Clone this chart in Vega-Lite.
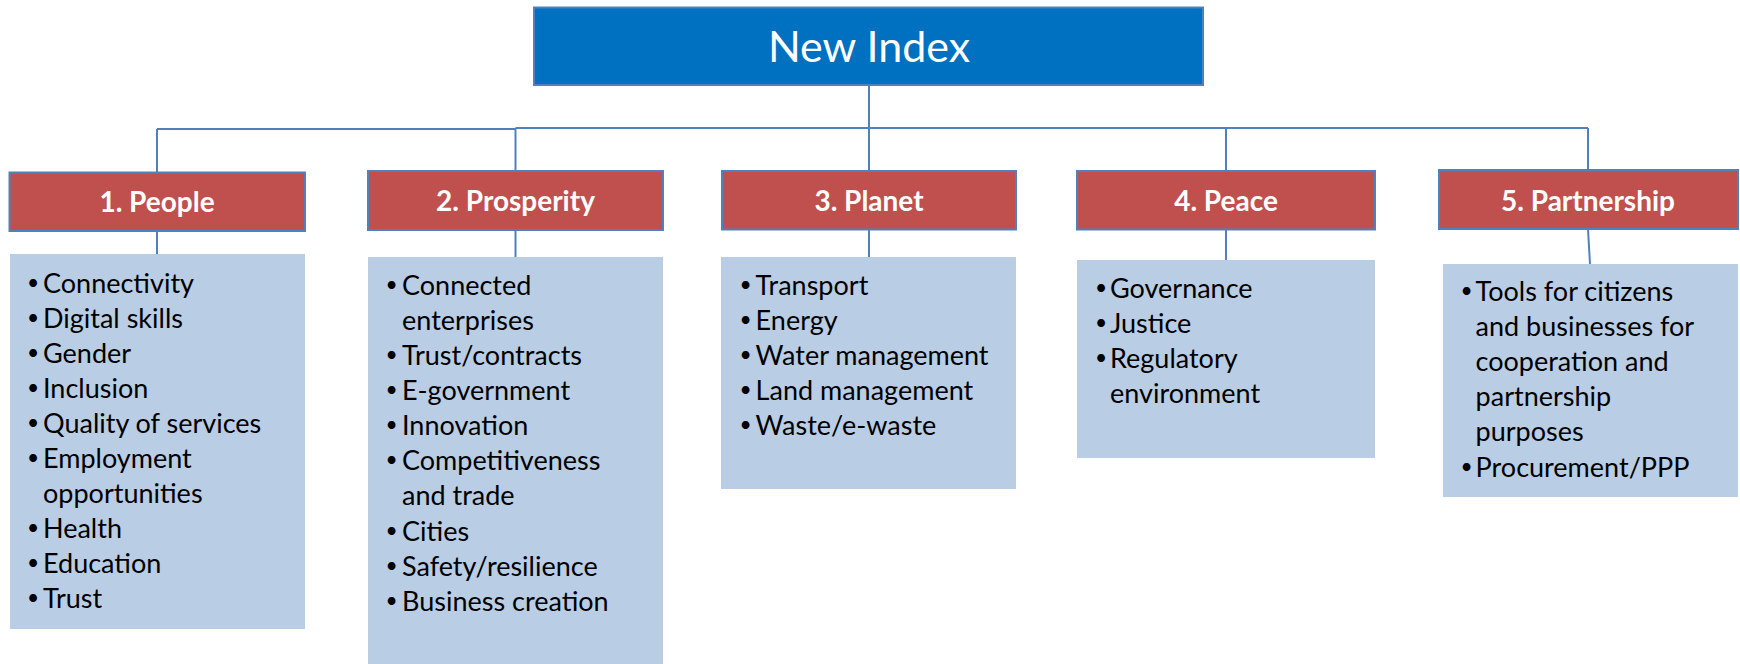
{
  "$schema": "https://vega.github.io/schema/vega-lite/v6.json",
  "width": 1740,
  "height": 664,
  "autosize": {"type": "fit", "contains": "padding"},
  "padding": 0,
  "background": "white",
  "config": {"view": {"stroke": null}},
  "datasets": {
    "boxes": [
      {"kind": "index", "x": 534, "x2": 1203, "y": 7.5, "y2": 85},
      {"kind": "pillar", "x": 9.5, "x2": 305, "y": 172.5, "y2": 231},
      {"kind": "pillar", "x": 368, "x2": 663, "y": 171, "y2": 230},
      {"kind": "pillar", "x": 722, "x2": 1016, "y": 171, "y2": 229.5},
      {"kind": "pillar", "x": 1077, "x2": 1375, "y": 171, "y2": 229.5},
      {"kind": "pillar", "x": 1439, "x2": 1738, "y": 170, "y2": 229}
    ],
    "items": [
      {"x": 10, "x2": 305, "y": 254, "y2": 629},
      {"x": 368, "x2": 663, "y": 257, "y2": 664},
      {"x": 721, "x2": 1016, "y": 257, "y2": 489},
      {"x": 1077, "x2": 1375, "y": 260, "y2": 458},
      {"x": 1443, "x2": 1738, "y": 264, "y2": 497}
    ],
    "links": [
      {"x": 869, "y": 85, "x2": 869, "y2": 128},
      {"x": 157, "y": 129, "x2": 515.5, "y2": 129},
      {"x": 515.5, "y": 128, "x2": 1588, "y2": 128},
      {"x": 157, "y": 129, "x2": 157, "y2": 172.5},
      {"x": 515.5, "y": 128, "x2": 515.5, "y2": 171},
      {"x": 869, "y": 128, "x2": 869, "y2": 171},
      {"x": 1226, "y": 128, "x2": 1226, "y2": 171},
      {"x": 1588, "y": 128, "x2": 1588, "y2": 170},
      {"x": 157, "y": 231, "x2": 157, "y2": 254},
      {"x": 515.5, "y": 230, "x2": 515.5, "y2": 257},
      {"x": 869, "y": 229.5, "x2": 869, "y2": 257},
      {"x": 1226, "y": 229.5, "x2": 1226, "y2": 260},
      {"x": 1588, "y": 229, "x2": 1590, "y2": 264}
    ],
    "titles": [
      {"x": 157, "y": 212, "label": "1. People"},
      {"x": 515.5, "y": 211, "label": "2. Prosperity"},
      {"x": 869, "y": 211, "label": "3. Planet"},
      {"x": 1226, "y": 211, "label": "4. Peace"},
      {"x": 1588, "y": 210.5, "label": "5. Partnership"}
    ],
    "lines": [
      {"x": 43, "bx": 33, "y": 293, "bullet": "•", "label": "Connectivity"},
      {"x": 43, "bx": 33, "y": 328, "bullet": "•", "label": "Digital skills"},
      {"x": 43, "bx": 33, "y": 363, "bullet": "•", "label": "Gender"},
      {"x": 43, "bx": 33, "y": 398, "bullet": "•", "label": "Inclusion"},
      {"x": 43, "bx": 33, "y": 433, "bullet": "•", "label": "Quality of services"},
      {"x": 43, "bx": 33, "y": 468, "bullet": "•", "label": "Employment"},
      {"x": 43, "bx": 33, "y": 503, "bullet": "", "label": "opportunities"},
      {"x": 43, "bx": 33, "y": 538, "bullet": "•", "label": "Health"},
      {"x": 43, "bx": 33, "y": 573, "bullet": "•", "label": "Education"},
      {"x": 43, "bx": 33, "y": 608, "bullet": "•", "label": "Trust"},
      {"x": 402, "bx": 391.5, "y": 294.5, "bullet": "•", "label": "Connected"},
      {"x": 402, "bx": 391.5, "y": 329.6, "bullet": "", "label": "enterprises"},
      {"x": 402, "bx": 391.5, "y": 364.8, "bullet": "•", "label": "Trust/contracts"},
      {"x": 402, "bx": 391.5, "y": 400, "bullet": "•", "label": "E-government"},
      {"x": 402, "bx": 391.5, "y": 435, "bullet": "•", "label": "Innovation"},
      {"x": 402, "bx": 391.5, "y": 470.2, "bullet": "•", "label": "Competitiveness"},
      {"x": 402, "bx": 391.5, "y": 505.4, "bullet": "", "label": "and trade"},
      {"x": 402, "bx": 391.5, "y": 540.5, "bullet": "•", "label": "Cities"},
      {"x": 402, "bx": 391.5, "y": 575.7, "bullet": "•", "label": "Safety/resilience"},
      {"x": 402, "bx": 391.5, "y": 610.8, "bullet": "•", "label": "Business creation"},
      {"x": 755.6, "bx": 745.5, "y": 295, "bullet": "•", "label": "Transport"},
      {"x": 755.6, "bx": 745.5, "y": 330, "bullet": "•", "label": "Energy"},
      {"x": 755.6, "bx": 745.5, "y": 365, "bullet": "•", "label": "Water management"},
      {"x": 755.6, "bx": 745.5, "y": 400, "bullet": "•", "label": "Land management"},
      {"x": 755.6, "bx": 745.5, "y": 435, "bullet": "•", "label": "Waste/e-waste"},
      {"x": 1110, "bx": 1101, "y": 298.3, "bullet": "•", "label": "Governance"},
      {"x": 1110, "bx": 1101, "y": 333.3, "bullet": "•", "label": "Justice"},
      {"x": 1110, "bx": 1101, "y": 368.3, "bullet": "•", "label": "Regulatory"},
      {"x": 1110, "bx": 1101, "y": 403.3, "bullet": "", "label": "environment"},
      {"x": 1475.6, "bx": 1466.5, "y": 301, "bullet": "•", "label": "Tools for citizens"},
      {"x": 1475.6, "bx": 1466.5, "y": 336.1, "bullet": "", "label": "and businesses for"},
      {"x": 1475.6, "bx": 1466.5, "y": 371.2, "bullet": "", "label": "cooperation and"},
      {"x": 1475.6, "bx": 1466.5, "y": 406.3, "bullet": "", "label": "partnership"},
      {"x": 1475.6, "bx": 1466.5, "y": 441.4, "bullet": "", "label": "purposes"},
      {"x": 1475.6, "bx": 1466.5, "y": 476.7, "bullet": "•", "label": "Procurement/PPP"}
    ],
    "header": [
      {"x": 869, "y": 61.5, "label": "New Index"}
    ]
  },
  "layer": [
    {
      "data": {"name": "items"},
      "mark": {"type": "rect", "color": "#B9CDE5"},
      "encoding": {
        "x": {"field": "x", "type": "quantitative", "scale": {"domain": [0, 1740], "nice": false, "zero": false}, "axis": null},
        "x2": {"field": "x2"},
        "y": {"field": "y", "type": "quantitative", "scale": {"domain": [0, 664], "nice": false, "zero": false, "reverse": true}, "axis": null},
        "y2": {"field": "y2"}
      }
    },
    {
      "data": {"name": "links"},
      "mark": {"type": "rule", "color": "#4F81BD", "strokeWidth": 2},
      "encoding": {
        "x": {"field": "x", "type": "quantitative", "scale": {"domain": [0, 1740], "nice": false, "zero": false}, "axis": null},
        "x2": {"field": "x2"},
        "y": {"field": "y", "type": "quantitative", "scale": {"domain": [0, 664], "nice": false, "zero": false, "reverse": true}, "axis": null},
        "y2": {"field": "y2"}
      }
    },
    {
      "data": {"name": "boxes"},
      "mark": {"type": "rect", "stroke": "#4F81BD", "strokeWidth": 2},
      "encoding": {
        "x": {"field": "x", "type": "quantitative", "scale": {"domain": [0, 1740], "nice": false, "zero": false}, "axis": null},
        "x2": {"field": "x2"},
        "y": {"field": "y", "type": "quantitative", "scale": {"domain": [0, 664], "nice": false, "zero": false, "reverse": true}, "axis": null},
        "y2": {"field": "y2"},
        "fill": {"field": "kind", "type": "nominal", "scale": {"domain": ["index", "pillar"], "range": ["#0070C0", "#C0504D"]}, "legend": null}
      }
    },
    {
      "data": {"name": "header"},
      "mark": {"type": "text", "font": "Lato", "fontSize": 43, "color": "white", "align": "center", "baseline": "alphabetic"},
      "encoding": {
        "x": {"field": "x", "type": "quantitative", "scale": {"domain": [0, 1740], "nice": false, "zero": false}, "axis": null},
        "y": {"field": "y", "type": "quantitative", "scale": {"domain": [0, 664], "nice": false, "zero": false, "reverse": true}, "axis": null},
        "text": {"field": "label"}
      }
    },
    {
      "data": {"name": "titles"},
      "mark": {"type": "text", "font": "Lato", "fontSize": 28, "fontWeight": "bold", "color": "white", "align": "center", "baseline": "alphabetic"},
      "encoding": {
        "x": {"field": "x", "type": "quantitative", "scale": {"domain": [0, 1740], "nice": false, "zero": false}, "axis": null},
        "y": {"field": "y", "type": "quantitative", "scale": {"domain": [0, 664], "nice": false, "zero": false, "reverse": true}, "axis": null},
        "text": {"field": "label"}
      }
    },
    {
      "data": {"name": "lines"},
      "mark": {"type": "text", "font": "Lato", "fontSize": 27, "color": "black", "align": "left", "baseline": "alphabetic"},
      "encoding": {
        "x": {"field": "x", "type": "quantitative", "scale": {"domain": [0, 1740], "nice": false, "zero": false}, "axis": null},
        "y": {"field": "y", "type": "quantitative", "scale": {"domain": [0, 664], "nice": false, "zero": false, "reverse": true}, "axis": null},
        "text": {"field": "label"}
      }
    },
    {
      "data": {"name": "lines"},
      "mark": {"type": "text", "font": "Lato", "fontSize": 21, "color": "black", "align": "center", "baseline": "alphabetic", "dy": -3},
      "encoding": {
        "x": {"field": "bx", "type": "quantitative", "scale": {"domain": [0, 1740], "nice": false, "zero": false}, "axis": null},
        "y": {"field": "y", "type": "quantitative", "scale": {"domain": [0, 664], "nice": false, "zero": false, "reverse": true}, "axis": null},
        "text": {"field": "bullet"}
      }
    }
  ]
}
